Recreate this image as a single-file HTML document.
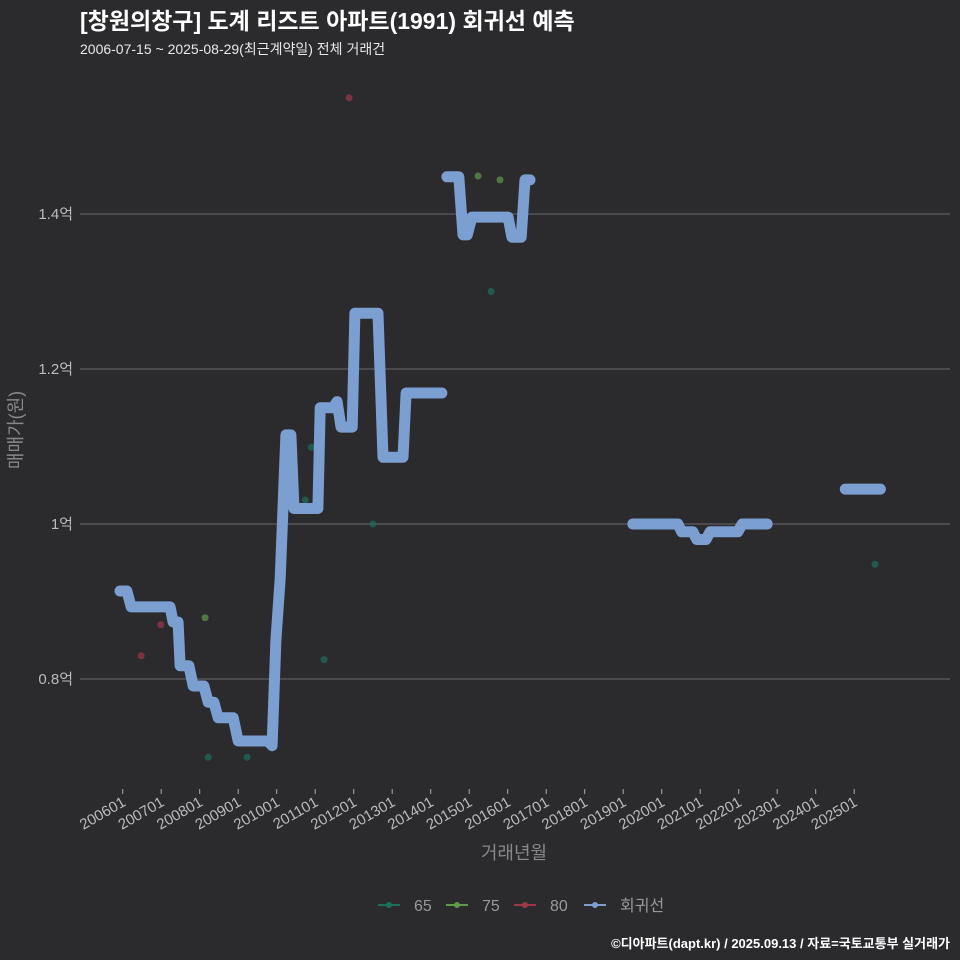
<!DOCTYPE html>
<html><head><meta charset="utf-8">
<style>
body{margin:0;background:#2b2a2d;}
svg{display:block;font-family:"Liberation Sans","Noto Sans CJK KR",sans-serif;}
</style></head>
<body>
<svg id="chart" width="960" height="960" viewBox="0 0 960 960" xmlns="http://www.w3.org/2000/svg">
<rect width="960" height="960" fill="#2b2a2d"/>
<text x="80" y="29" fill="#ffffff" font-size="23" font-weight="bold">[창원의창구] 도계 리즈트 아파트(1991) 회귀선 예측</text>
<text x="80" y="54" fill="#e8e8e8" font-size="14">2006-07-15 ~ 2025-08-29(최근계약일) 전체 거래건</text>
<g id="grid"></g>
<g id="axes"></g>
<g id="marks"></g>
<text transform="translate(22,430) rotate(-90)" text-anchor="middle" fill="#888" font-size="18">매매가(원)</text>
<text x="514" y="859" text-anchor="middle" fill="#888" font-size="18">거래년월</text>
<g id="legend"></g>
<text x="950" y="948" text-anchor="end" fill="#ffffff" font-size="13" font-weight="bold">©디아파트(dapt.kr) / 2025.09.13 / 자료=국토교통부 실거래가</text>
</svg>
<script>
const yTicks=[0.8,1.0,1.2,1.4];
const yTickLabels=["0.8억","1억","1.2억","1.4억"];
const xTickYears=[2006,2007,2008,2009,2010,2011,2012,2013,2014,2015,2016,2017,2018,2019,2020,2021,2022,2023,2024,2025];
const lineT=[2005.93,2006.11,2006.22,2007.23,2007.31,2007.44,2007.49,2007.72,2007.83,2008.11,2008.22,2008.37,2008.48,2008.87,2009.00,2009.77,2009.88,2009.98,2010.09,2010.24,2010.37,2010.45,2011.07,2011.13,2011.46,2011.57,2011.67,2011.96,2012.03,2012.63,2012.76,2013.28,2013.36,2014.29,null,2014.42,2014.73,2014.84,2014.95,2015.07,2016.01,2016.11,2016.35,2016.45,2016.58,null,2019.25,2020.42,2020.52,2020.81,2020.91,2021.15,2021.26,2021.98,2022.09,2022.74,null,2024.77,2025.68];
const lineV=[0.9135,0.9135,0.893,0.893,0.8735,0.8735,0.817,0.817,0.791,0.791,0.770,0.770,0.750,0.750,0.720,0.720,0.714,0.85,0.93,1.115,1.115,1.02,1.02,1.15,1.15,1.158,1.125,1.125,1.272,1.272,1.086,1.086,1.169,1.169,null,1.448,1.448,1.373,1.373,1.396,1.396,1.37,1.37,1.444,1.444,null,1.0,1.0,0.99,0.99,0.98,0.98,0.99,0.99,1.0,1.0,null,1.045,1.045];
const s65T=[2008.22,2009.23,2011.23,2010.74,2010.90,2012.50,2015.57,2025.54];
const s65V=[0.699,0.699,0.825,1.031,1.099,1.0,1.30,0.948];
const s75T=[2008.14,2015.23,2015.80];
const s75V=[0.879,1.449,1.444];
const s80T=[2006.48,2006.99,2011.88];
const s80V=[0.83,0.870,1.55];
const legendLabels=["65","75","80","회귀선"];
const NS="http://www.w3.org/2000/svg";
const X=t=>122.7+(t-2006)*38.5;
const Y=v=>524-(v-1.0)*775;
function mk(tag,attrs,parent){const e=document.createElementNS(NS,tag);for(const k in attrs)e.setAttribute(k,attrs[k]);parent.appendChild(e);return e;}
const grid=document.getElementById('grid'),axes=document.getElementById('axes'),marks=document.getElementById('marks'),legend=document.getElementById('legend');
yTicks.forEach((v,i)=>{
 const l=mk('line',{x1:80,x2:950,y1:Y(v),y2:Y(v),stroke:'#5e5e60','stroke-width':1.2},grid);
 
 
 const t=mk('text',{x:73,y:Y(v)+5,'text-anchor':'end',fill:'#bbb','font-size':15},axes);
 t.textContent=yTickLabels[i];
 
 
});
xTickYears.forEach(yr=>{
 const x=X(yr);
 const tk=mk('line',{x1:x,x2:x,y1:789,y2:794,stroke:'#aaa','stroke-width':1},axes);
 
 
 const t=mk('text',{transform:`translate(${x+4},${805}) rotate(-30)`,'text-anchor':'end',fill:'#bbb','font-size':15},axes);
 t.textContent=yr+'01';
 
 
});
function dots(T,V,col,name){T.forEach((t,i)=>{
 const c=mk('circle',{cx:X(t),cy:Y(V[i]),r:3.5,fill:col,'fill-opacity':0.7},marks);
 
 
});}
dots(s65T,s65V,'#1f6e5c','point-65');
dots(s75T,s75V,'#5e9a4a','point-75');
dots(s80T,s80V,'#a0364a','point-80');
let d='',pen=false;
lineT.forEach((t,i)=>{if(t===null){pen=false;return;}d+=(pen?'L':'M')+X(t).toFixed(1)+' '+Y(lineV[i]).toFixed(1)+' ';pen=true;});
const p=mk('path',{d:d,fill:'none',stroke:'#7b9fd1','stroke-width':11,'stroke-linecap':'round','stroke-linejoin':'round'},marks);


const lcols=['#1f6e5c','#5e9a4a','#a0364a','#7b9fd1'];
const lx=[378,446,514,584];
legendLabels.forEach((lab,i)=>{
 const g=mk('g',{},legend);
 
 
 mk('line',{x1:lx[i],x2:lx[i]+22,y1:905,y2:905,stroke:lcols[i],'stroke-width':2},g);
 mk('circle',{cx:lx[i]+11,cy:905,r:3,fill:lcols[i]},g);
 const t=mk('text',{x:lx[i]+36,y:911,fill:'#999','font-size':16},g);
 t.textContent=lab;
});
</script>
</body></html>
